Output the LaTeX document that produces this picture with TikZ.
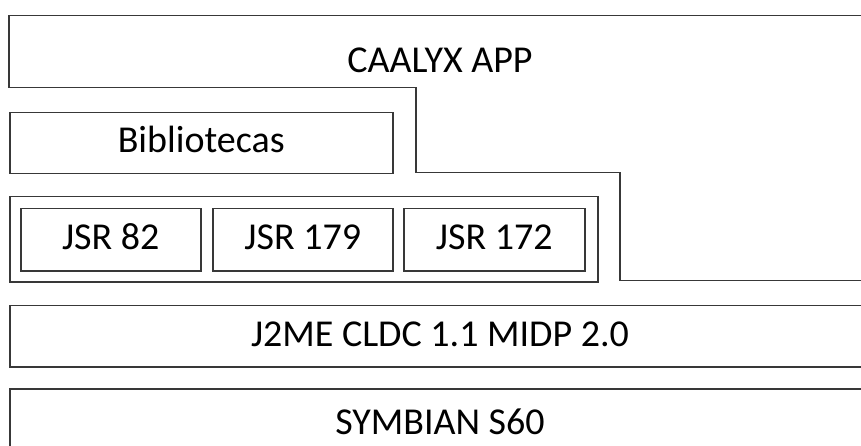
\documentclass[tikz,border=0pt]{standalone}
\usepackage{fontspec}
\setmainfont{Carlito}
\begin{document}
\begin{tikzpicture}[x=1pt,y=-1pt,
  edge/.style={draw=black!78,line width=1.5pt},
  box/.style={edge,rectangle,inner sep=0pt,anchor=north west},
  lbl/.style={font=\fontsize{38}{42}\selectfont,anchor=base,inner sep=0pt}]
\useasboundingbox (0,0) rectangle (861,446);
\clip (0,0) rectangle (861,446);
% CAALYX APP stepped shape
\draw[edge] (880,15.5) -- (9,15.5) -- (9,87.5) -- (416,87.5) -- (416,172.5) -- (620,172.5) -- (620,280.5) -- (880,280.5);
\node[lbl] (app) at (440,72.7) {CAALYX APP};
% Bibliotecas
\node[box,minimum width=383pt,minimum height=61pt] (bib) at (9,112) {};
\node[lbl] (biblbl) at (bib.center |- 0,152.3) {Bibliotecas};
% JSR frame
\node[box,minimum width=588pt,minimum height=85pt] (frame) at (9,196) {};
\node[box,minimum width=180pt,minimum height=62pt] (j82) at (20,208) {};
\node[box,minimum width=180pt,minimum height=62pt] (j179) at (212,208) {};
\node[box,minimum width=181pt,minimum height=62pt] (j172) at (403,208) {};
\node[lbl] at (j82.center |- 0,249.3) {JSR 82};
\node[lbl] at (j179.center |- 0,249.3) {JSR 179};
\node[lbl] at (j172.center |- 0,249.3) {JSR 172};
% J2ME
\node[box,minimum width=880pt,minimum height=61.5pt] (j2me) at (9,304.5) {};
\node[lbl] at (440,346.7) {J2ME CLDC 1.1 MIDP 2.0};
% Symbian
\node[box,minimum width=880pt,minimum height=80pt] (sym) at (9,388) {};
\node[lbl] at (440,434) {SYMBIAN S60};
\end{tikzpicture}
\end{document}
